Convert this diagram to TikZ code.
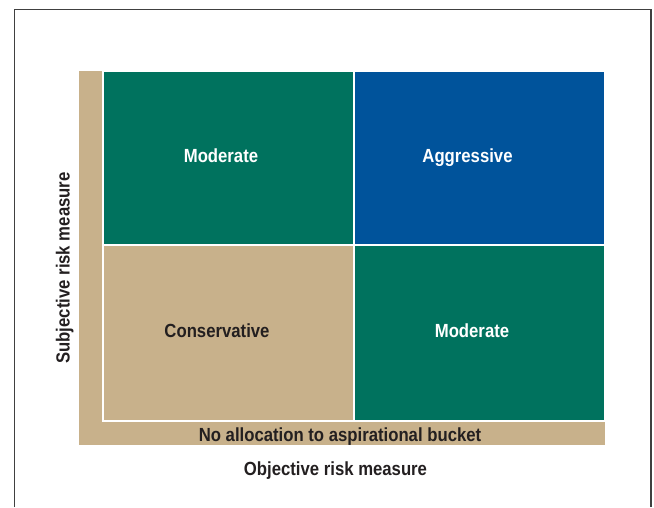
\documentclass[tikz,border=0pt]{standalone}
\usepackage{fontspec}
\setmainfont{Liberation Sans}[FakeStretch=0.88]
\usetikzlibrary{positioning}
\definecolor{riskgreen}{HTML}{00725E}
\definecolor{riskblue}{HTML}{00539B}
\definecolor{risktan}{HTML}{C8B18B}
\definecolor{risktext}{HTML}{231F20}
\tikzset{cell/.style = {draw=white, line width=1.5pt, inner sep=0pt, outer sep=0pt,
                        minimum width=251pt, anchor=north west}}
\tikzset{celltext/.style = {font=\fontsize{19}{21}\selectfont\bfseries, text=white, anchor=base}}
\tikzset{axistext/.style = {font=\fontsize{19}{21}\selectfont\bfseries, text=risktext, anchor=base}}

\begin{document}
\begin{tikzpicture}[x=1pt, y=-1pt]
                \useasboundingbox (0,0) rectangle (654,507);
                \draw[black!75, line width=1.3pt] (14.5,507) |- (651,9.5) -- (651,507);

                % aspirational bucket
                \fill[risktan] (79,71) rectangle (605,445);

                \node[cell, fill=riskgreen, minimum height=174pt] (tl) at (103,71) {};
                \node[cell, fill=riskblue, minimum height=174pt] (tr) at (354,71) {};
                \node[cell, fill=risktan, minimum height=176pt] (bl) at (103,245) {};
                \node[cell, fill=riskgreen, minimum height=176pt] (br) at (354,245) {};

                \node[celltext] (modtop) at (221,162) {Moderate};
                \node[celltext] (aggr) at (467.5,162) {Aggressive};
                \node[celltext, text=risktext] (cons) at (217,337) {Conservative};
                \node[celltext] (modbot) at (472,337) {Moderate};

                \node[axistext] (bucket) at (340,441) {No allocation to aspirational bucket};
                \node[axistext] (objective) at (335.5,475) {Objective risk measure};
                \node[axistext, rotate=90] (subjective) at (69.5,268) {Subjective risk measure};
            \end{tikzpicture}
\end{document}
